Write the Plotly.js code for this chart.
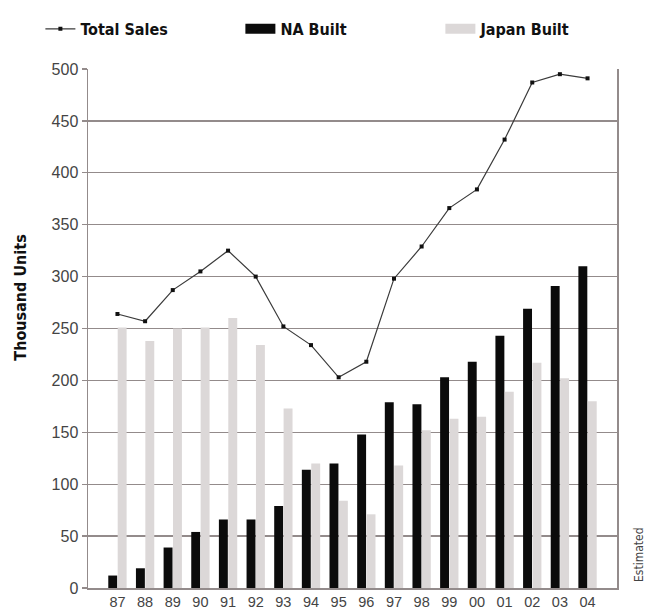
<!DOCTYPE html>
<html>
<head>
<meta charset="utf-8">
<script src="https://cdn.plot.ly/plotly-3.0.1.min.js"></script>
<style>html,body{margin:0;padding:0;background:#fff;}#chart{width:652px;height:610px;}</style>
</head>
<body>
<div id="chart"></div>
<script>
// Data
const years = ["87","88","89","90","91","92","93","94","95","96","97","98","99","00","01","02","03","04"];
const naBuilt = [12,19,39,54,66,66,79,114,120,148,179,177,203,218,243,269,291,310];
const japanBuilt = [251,238,250,251,260,234,173,120,84,71,118,152,163,165,189,217,202,180];
const totalSales = [264,257,287,305,325,300,252,234,203,218,298,329,366,384,432,487,495,491];
const yTicks = [0,50,100,150,200,250,300,350,400,450,500];

const gridColor = '#938b8b';
const narrow = '"Liberation Sans Narrow", "Arial Narrow", "DejaVu Sans Condensed", sans-serif';
const regular = '"Liberation Sans", Arial, sans-serif';

const traces = [
  {type:'bar', x:years, y:naBuilt, name:'NA Built', marker:{color:'#0b0b0b'}, showlegend:false, hoverinfo:'x+y'},
  {type:'bar', x:years, y:japanBuilt, name:'Japan Built', marker:{color:'#dcd8d8'}, showlegend:false, hoverinfo:'x+y'},
  {type:'scatter', mode:'lines+markers', x:years, y:totalSales, name:'Total Sales',
   line:{color:'#3a3a3a', width:1.2}, marker:{symbol:'square', size:4, color:'#111'}, showlegend:true},
  // legend-only entries with long bar-like symbols
  {type:'scatter', mode:'lines', x:[null], y:[null], name:'NA Built', line:{color:'#0b0b0b', width:10}, showlegend:true, hoverinfo:'skip'},
  {type:'scatter', mode:'lines', x:[null], y:[null], name:'Japan Built', line:{color:'#dcd8d8', width:10}, showlegend:true, hoverinfo:'skip'}
];

const layout = {
  width:652, height:610,
  margin:{l:88, r:35, t:67, b:22},
  paper_bgcolor:'#fff', plot_bgcolor:'#fff',
  barmode:'group', bargap:0.32, bargroupgap:0.05,
  showlegend:true,
  legend:{orientation:'h', x:-0.09, xanchor:'left', y:1.11, yanchor:'top',
          entrywidth:155, entrywidthmode:'pixels', traceorder:'normal',
          font:{family:narrow, size:16, color:'#111', weight:'bold'}, bgcolor:'rgba(0,0,0,0)'},
  xaxis:{type:'category', categoryorder:'array', categoryarray:years,
         showgrid:false, showline:true, linecolor:gridColor, linewidth:1.5,
         ticks:'', tickfont:{family:regular, size:14.5, color:'#444'}, fixedrange:true},
  yaxis:{range:[0,500], tickvals:yTicks, ticktext:yTicks.map(String),
         showgrid:true, gridcolor:gridColor, gridwidth:1.3,
         showline:true, linecolor:gridColor, linewidth:1.5, mirror:true,
         ticks:'outside', ticklen:5, tickcolor:gridColor, tickwidth:1.3,
         tickfont:{family:regular, size:16, color:'#444'}, zeroline:false, fixedrange:true},
  annotations:[
    {text:'<b>Thousand Units</b>', xref:'paper', yref:'paper', x:-0.128, y:0.56, xanchor:'center', yanchor:'middle',
     textangle:-90, showarrow:false, font:{family:narrow, size:16, color:'#111'}},
    {text:'Estimated', xref:'paper', yref:'paper', x:1.043, y:0.065, xanchor:'center', yanchor:'middle',
     textangle:-90, showarrow:false, font:{family:narrow, size:12, color:'#444'}}
  ]
};

Plotly.newPlot('chart', traces, layout, {displayModeBar:false, staticPlot:true});
</script>
</body>
</html>
